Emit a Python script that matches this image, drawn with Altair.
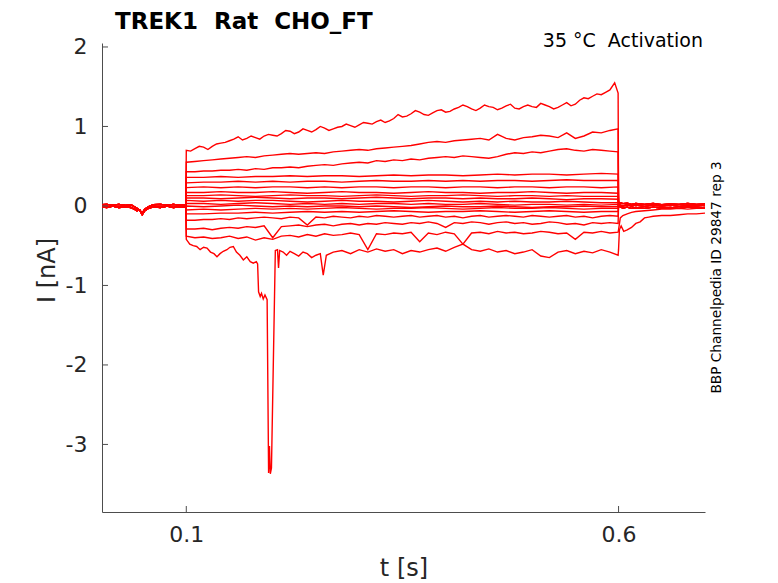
import altair as alt
import pandas as pd

# ---- time grids (s) ----
T51 = [0.1, 0.11, 0.12, 0.13, 0.14, 0.15, 0.16, 0.17, 0.18, 0.19,
       0.2, 0.21, 0.22, 0.23, 0.24, 0.25, 0.26, 0.27, 0.28, 0.29,
       0.3, 0.31, 0.32, 0.33, 0.34, 0.35, 0.36, 0.37, 0.38, 0.39,
       0.4, 0.41, 0.42, 0.43, 0.44, 0.45, 0.46, 0.47, 0.48, 0.49,
       0.5, 0.51, 0.52, 0.53, 0.54, 0.55, 0.56, 0.57, 0.58, 0.59, 0.5995]
T26 = [0.1, 0.12, 0.14, 0.16, 0.18, 0.2, 0.22, 0.24, 0.26, 0.28,
       0.3, 0.32, 0.34, 0.36, 0.38, 0.4, 0.42, 0.44, 0.46, 0.48,
       0.5, 0.52, 0.54, 0.56, 0.58, 0.5995]

# ---- baseline before the step ----
PRE_T = [0.0025, 0.008, 0.015, 0.022, 0.03, 0.036, 0.04, 0.043, 0.046, 0.049,
         0.052, 0.056, 0.062, 0.07, 0.078, 0.085, 0.092, 0.0995]
PRE_A = [0.015, 0.02, 0.01, 0.02, 0.005, 0.015, -0.01, -0.03, -0.05, -0.09,
         -0.04, -0.01, 0.015, 0.02, 0.01, 0.02, 0.01, 0.015]
PRE_B = [-0.01, -0.02, 0.0, -0.02, -0.01, -0.02, -0.04, -0.06, -0.05, -0.11,
         -0.06, -0.03, -0.01, -0.02, 0.0, -0.02, -0.01, -0.015]

# ---- tail after the step ----
POST_T = [0.6, 0.602, 0.605, 0.61, 0.615, 0.62, 0.63, 0.64, 0.65, 0.66, 0.67, 0.68, 0.69, 0.7]
POST_A = [0.045, 0.04, 0.03, 0.035, 0.02, 0.03, 0.02, 0.03, 0.015, 0.025, 0.02, 0.03, 0.02, 0.025]
POST_B = [0.0, -0.01, -0.025, -0.015, -0.03, -0.02, -0.03, -0.015, -0.025, -0.02, -0.03, -0.015, -0.025, -0.02]
POST_C = [0.02, 0.01, 0.0, 0.015, 0.0, 0.01, -0.005, 0.01, 0.0, 0.01, -0.005, 0.005, 0.0, 0.01]
POST_S = [-0.30, -0.15, -0.12, -0.10, -0.08, -0.07, -0.06, -0.05, -0.04, -0.04, -0.03, -0.04, -0.03, -0.03]
POST_R_T = [0.6, 0.601, 0.603, 0.606, 0.61, 0.615, 0.62, 0.625, 0.63, 0.635, 0.64,
            0.65, 0.66, 0.67, 0.68, 0.69, 0.7]
POST_R = [-0.55, -0.30, -0.25, -0.32, -0.30, -0.27, -0.22, -0.20, -0.15, -0.14, -0.13,
          -0.12, -0.12, -0.11, -0.10, -0.10, -0.09]

# ---- step traces (nA) ----
A_PTS = [(0.100, 0.70), (0.105, 0.69), (0.110, 0.72), (0.115, 0.75), (0.120, 0.74),
         (0.125, 0.71), (0.130, 0.75), (0.135, 0.78), (0.140, 0.79), (0.145, 0.80),
         (0.150, 0.82), (0.155, 0.84), (0.160, 0.87), (0.165, 0.83), (0.170, 0.85),
         (0.175, 0.88), (0.180, 0.86), (0.185, 0.84), (0.190, 0.88), (0.195, 0.90),
         (0.200, 0.89), (0.205, 0.88), (0.210, 0.91), (0.215, 0.95), (0.220, 0.94),
         (0.225, 0.91), (0.230, 0.93), (0.235, 0.97), (0.240, 0.95), (0.245, 0.93),
         (0.250, 0.96), (0.255, 1.00), (0.260, 0.98), (0.265, 0.95), (0.270, 0.97),
         (0.275, 0.99), (0.280, 1.00), (0.285, 1.03), (0.290, 1.01), (0.295, 0.99),
         (0.300, 1.02), (0.305, 1.05), (0.310, 1.04), (0.315, 1.03), (0.320, 1.06),
         (0.325, 1.08), (0.330, 1.05), (0.335, 1.07), (0.340, 1.10), (0.345, 1.15),
         (0.350, 1.12), (0.355, 1.13), (0.360, 1.16), (0.365, 1.20), (0.370, 1.18),
         (0.375, 1.15), (0.380, 1.14), (0.385, 1.17), (0.390, 1.20), (0.395, 1.21),
         (0.400, 1.18), (0.405, 1.19), (0.410, 1.22), (0.415, 1.24), (0.420, 1.27),
         (0.425, 1.25), (0.430, 1.22), (0.435, 1.20), (0.440, 1.23), (0.445, 1.27),
         (0.450, 1.25), (0.455, 1.24), (0.460, 1.21), (0.465, 1.23), (0.470, 1.26),
         (0.475, 1.28), (0.480, 1.23), (0.485, 1.22), (0.490, 1.25), (0.495, 1.27),
         (0.500, 1.25), (0.505, 1.24), (0.510, 1.29), (0.515, 1.27), (0.520, 1.25),
         (0.525, 1.22), (0.530, 1.24), (0.535, 1.27), (0.540, 1.30), (0.545, 1.26),
         (0.550, 1.28), (0.555, 1.33), (0.560, 1.36), (0.565, 1.35), (0.570, 1.38),
         (0.575, 1.41), (0.580, 1.40), (0.585, 1.43), (0.590, 1.46), (0.5955, 1.55),
         (0.5995, 1.42)]
B = [0.55, 0.56, 0.57, 0.58, 0.59, 0.60, 0.61, 0.62, 0.61, 0.63,
     0.64, 0.65, 0.66, 0.65, 0.66, 0.67, 0.66, 0.68, 0.69, 0.70,
     0.71, 0.70, 0.72, 0.73, 0.74, 0.75, 0.76, 0.78, 0.80, 0.81,
     0.80, 0.82, 0.83, 0.84, 0.85, 0.83, 0.90, 0.85, 0.83, 0.86,
     0.87, 0.89, 0.88, 0.86, 0.92, 0.85, 0.88, 0.93, 0.92, 0.95, 0.97]
C = [0.43, 0.43, 0.44, 0.44, 0.45, 0.45, 0.46, 0.45, 0.47, 0.46,
     0.48, 0.48, 0.49, 0.48, 0.50, 0.51, 0.52, 0.51, 0.53, 0.54,
     0.55, 0.54, 0.57, 0.56, 0.58, 0.57, 0.59, 0.58, 0.60, 0.61,
     0.62, 0.61, 0.63, 0.62, 0.61, 0.60, 0.62, 0.65, 0.67, 0.66,
     0.68, 0.67, 0.69, 0.71, 0.72, 0.70, 0.69, 0.71, 0.70, 0.69, 0.68]
D = [0.36, 0.36, 0.37, 0.36, 0.37, 0.37, 0.38, 0.37, 0.38, 0.38,
     0.37, 0.38, 0.39, 0.38, 0.39, 0.39, 0.38, 0.39, 0.40, 0.39,
     0.40, 0.40, 0.39, 0.40, 0.41, 0.40]
E = [0.29, 0.30, 0.30, 0.31, 0.30, 0.31, 0.30, 0.31, 0.31, 0.30,
     0.31, 0.32, 0.31, 0.31, 0.32, 0.31, 0.32, 0.31, 0.32, 0.32,
     0.31, 0.32, 0.33, 0.32, 0.32, 0.32]
F = [0.23, 0.24, 0.23, 0.24, 0.23, 0.24, 0.24, 0.23, 0.24, 0.23,
     0.24, 0.24, 0.23, 0.24, 0.24, 0.23, 0.24, 0.24, 0.23, 0.24,
     0.24, 0.23, 0.24, 0.24, 0.23, 0.24]
G = [0.17, 0.17, 0.18, 0.17, 0.17, 0.18, 0.17, 0.16, 0.17, 0.18,
     0.17, 0.17, 0.16, 0.17, 0.18, 0.17, 0.17, 0.16, 0.17, 0.17,
     0.18, 0.17, 0.16, 0.17, 0.17, 0.16]
H = [0.13, 0.13, 0.14, 0.13, 0.12, 0.13, 0.14, 0.13, 0.13, 0.12,
     0.13, 0.14, 0.13, 0.12, 0.13, 0.13, 0.14, 0.13, 0.12, 0.13,
     0.13, 0.12, 0.13, 0.12, 0.12, 0.12]
I_ = [0.10, 0.10, 0.09, 0.10, 0.11, 0.10, 0.09, 0.10, 0.10, 0.09,
      0.10, 0.11, 0.10, 0.09, 0.10, 0.10, 0.09, 0.10, 0.09, 0.09,
      0.10, 0.09, 0.08, 0.09, 0.09, 0.085]
J = [0.07, 0.06, 0.07, 0.06, 0.07, 0.07, 0.06, 0.05, 0.06, 0.07,
     0.06, 0.06, 0.05, 0.06, 0.07, 0.06, 0.05, 0.06, 0.05, 0.06,
     0.05, 0.05, 0.06, 0.05, 0.04, 0.04]
K = [0.03, 0.03, 0.02, 0.03, 0.04, 0.03, 0.02, 0.03, 0.02, 0.03,
     0.02, 0.03, 0.03, 0.02, 0.03, 0.02, 0.02, 0.03, 0.02, 0.01,
     0.02, 0.02, 0.01, 0.02, 0.01, 0.02]
L = [0.0, -0.01, 0.0, 0.01, 0.0, -0.01, 0.0, -0.01, 0.0, 0.0,
     -0.01, 0.0, -0.01, -0.02, -0.01, 0.0, -0.01, -0.01, 0.0, -0.01,
     -0.02, -0.01, -0.01, 0.0, -0.01, -0.01]
N = [-0.05, -0.04, -0.05, -0.04, -0.03, -0.04, -0.03, -0.04, -0.03, -0.02,
     -0.03, -0.04, -0.03, -0.03, -0.02, -0.03, -0.04, -0.03, -0.02, -0.03,
     -0.03, -0.02, -0.03, -0.04, -0.03, -0.03]
O = [-0.10, -0.10, -0.09, -0.09, -0.08, -0.09, -0.08, -0.07, -0.08, -0.07,
     -0.08, -0.07, -0.06, -0.07, -0.08, -0.07, -0.07, -0.06, -0.07, -0.08,
     -0.07, -0.06, -0.07, -0.08, -0.07, -0.07]
P = [-0.18, -0.18, -0.17, -0.17, -0.16, -0.17, -0.15, -0.16, -0.15, -0.14,
     -0.15, -0.16, -0.14, -0.15, -0.24, -0.14, -0.15, -0.13, -0.14, -0.15,
     -0.13, -0.14, -0.12, -0.13, -0.14, -0.13, -0.12, -0.14, -0.13, -0.12,
     -0.14, -0.13, -0.15, -0.13, -0.12, -0.14, -0.13, -0.12, -0.13, -0.14,
     -0.12, -0.13, -0.14, -0.13, -0.12, -0.14, -0.13, -0.15, -0.13, -0.12, -0.13]
Q = [-0.29, -0.29, -0.28, -0.30, -0.28, -0.27, -0.28, -0.26, -0.27, -0.25,
     -0.40, -0.26, -0.25, -0.24, -0.26, -0.24, -0.23, -0.25, -0.23, -0.22,
     -0.24, -0.22, -0.23, -0.21, -0.22, -0.23, -0.21, -0.22, -0.20, -0.22,
     -0.27, -0.21, -0.22, -0.20, -0.21, -0.23, -0.21, -0.20, -0.22, -0.21,
     -0.23, -0.22, -0.20, -0.21, -0.23, -0.22, -0.24, -0.21, -0.22, -0.21, -0.22]
S = [-0.38, -0.40, -0.39, -0.41, -0.40, -0.38, -0.41, -0.39, -0.43, -0.40,
     -0.42, -0.38, -0.37, -0.39, -0.36, -0.38, -0.35, -0.37, -0.36, -0.34,
     -0.36, -0.55, -0.35, -0.36, -0.34, -0.35, -0.33, -0.45, -0.34, -0.36,
     -0.33, -0.35, -0.48, -0.34, -0.33, -0.35, -0.32, -0.34, -0.33, -0.35,
     -0.34, -0.32, -0.33, -0.35, -0.34, -0.42, -0.33, -0.34, -0.32, -0.34, -0.33]
R_PTS = [(0.1, -0.42), (0.104, -0.48), (0.108, -0.50), (0.112, -0.51), (0.116, -0.55),
         (0.12, -0.52), (0.124, -0.53), (0.128, -0.58), (0.132, -0.60), (0.1355, -0.64),
         (0.139, -0.60), (0.1428, -0.57), (0.147, -0.55), (0.1505, -0.52), (0.1544, -0.51),
         (0.158, -0.58), (0.162, -0.62), (0.166, -0.68), (0.170, -0.64), (0.174, -0.70),
         (0.1775, -0.72), (0.181, -0.70), (0.1825, -0.73), (0.1836, -1.08), (0.1855, -1.14),
         (0.187, -1.10), (0.189, -1.17), (0.191, -1.12), (0.1935, -1.18), (0.1952, -3.36),
         (0.1962, -3.02), (0.1972, -3.37), (0.1985, -3.30), (0.2030, -0.56), (0.2055, -0.55),
         (0.2067, -0.78), (0.208, -0.56), (0.212, -0.58), (0.216, -0.62), (0.22, -0.57),
         (0.225, -0.60), (0.23, -0.63), (0.235, -0.58), (0.24, -0.60), (0.245, -0.65),
         (0.25, -0.62), (0.255, -0.60), (0.2584, -0.87), (0.262, -0.62), (0.27, -0.58),
         (0.28, -0.56), (0.29, -0.60), (0.30, -0.55), (0.31, -0.58), (0.32, -0.54),
         (0.33, -0.57), (0.34, -0.55), (0.35, -0.60), (0.36, -0.56), (0.37, -0.58),
         (0.38, -0.55), (0.39, -0.53), (0.40, -0.57), (0.41, -0.52), (0.42, -0.48),
         (0.43, -0.55), (0.44, -0.57), (0.45, -0.54), (0.46, -0.58), (0.47, -0.56),
         (0.48, -0.60), (0.49, -0.58), (0.50, -0.55), (0.51, -0.63), (0.52, -0.65),
         (0.53, -0.58), (0.54, -0.56), (0.55, -0.60), (0.56, -0.57), (0.57, -0.59),
         (0.58, -0.55), (0.59, -0.58), (0.5995, -0.62)]

X_TICKS = [0.1, 0.6]
Y_TICKS = [-3, -2, -1, 0, 1, 2]

TITLE = "TREK1\u00a0 Rat\u00a0 CHO_FT"
NOTE = "35 °C\u00a0 Activation"
SIDE = "BBP Channelpedia ID 29847 rep 3"

traces = [
    ("A", [p[0] for p in A_PTS], [p[1] for p in A_PTS], PRE_A, (POST_T, POST_A)),
    ("B", T51, B, PRE_B, (POST_T, POST_B)),
    ("C", T51, C, PRE_A, (POST_T, POST_C)),
    ("D", T26, D, PRE_B, (POST_T, POST_A)),
    ("E", T26, E, PRE_A, (POST_T, POST_B)),
    ("F", T26, F, PRE_B, (POST_T, POST_C)),
    ("G", T26, G, PRE_A, (POST_T, POST_A)),
    ("H", T26, H, PRE_B, (POST_T, POST_B)),
    ("I", T26, I_, PRE_A, (POST_T, POST_C)),
    ("J", T26, J, PRE_B, (POST_T, POST_A)),
    ("K", T26, K, PRE_A, (POST_T, POST_B)),
    ("L", T26, L, PRE_B, (POST_T, POST_C)),
    ("N", T26, N, PRE_A, (POST_T, POST_A)),
    ("O", T26, O, PRE_B, (POST_T, POST_B)),
    ("P", T51, P, PRE_A, (POST_T, POST_C)),
    ("Q", T51, Q, PRE_B, (POST_T, POST_B)),
    ("S", T51, S, PRE_A, (POST_T, POST_S)),
    ("R", [p[0] for p in R_PTS], [p[1] for p in R_PTS], PRE_B, (POST_R_T, POST_R)),
]

rows = []
for name, st, sv, pre, (pt, pv) in traces:
    k = 0
    for t, v in list(zip(PRE_T, pre)) + list(zip(st, sv)) + list(zip(pt, pv)):
        rows.append({"trace": name, "t": t, "i": v, "k": k})
        k += 1
df = pd.DataFrame(rows)

W, H_ = 603, 469
FONT = "DejaVu Sans"
AX = "#4d4d4d"
TXT = "#262626"

xscale = alt.Scale(domain=[0.0025, 0.7], nice=False, zero=False)
yscale = alt.Scale(domain=[-3.85, 2.05], nice=False, zero=False)
xaxis = alt.Axis(values=X_TICKS, format=".1f", ticks=False, grid=False,
                 domainColor=AX, labelFont=FONT, labelFontSize=22, labelColor=TXT,
                 labelPadding=12, title="t [s]", titleFont=FONT, titleFontSize=24,
                 titleFontWeight="normal", titleColor=TXT, titlePadding=11)
yaxis = alt.Axis(values=Y_TICKS, labelExpr="'' + datum.value", ticks=False, grid=False,
                 domainColor=AX, labelFont=FONT, labelFontSize=22, labelColor=TXT,
                 labelPadding=15, title="I [nA]", titleFont=FONT, titleFontSize=24,
                 titleFontWeight="normal", titleColor=TXT, titlePadding=6, titleY=227)

X = alt.X("t:Q", scale=xscale, axis=xaxis)
Y = alt.Y("i:Q", scale=yscale, axis=yaxis)

lines = alt.Chart(df).mark_line(color="#ff0000", strokeWidth=1.4, clip=True).encode(
    x=X, y=Y, detail="trace:N", order="k:Q")

xt = alt.Chart(pd.DataFrame({"t": X_TICKS})).mark_rule(color=AX, strokeWidth=1).encode(
    x=X, y=alt.value(H_), y2=alt.value(H_ - 6))
yt = alt.Chart(pd.DataFrame({"i": Y_TICKS})).mark_rule(color=AX, strokeWidth=1).encode(
    y=Y, x=alt.value(0), x2=alt.value(6))

title = alt.Chart(pd.DataFrame({"s": [TITLE]})).mark_text(
    align="left", baseline="alphabetic", font=FONT, fontSize=23, fontWeight="bold",
    color="#000000").encode(x=alt.value(13), y=alt.value(-14), text="s:N")
note = alt.Chart(pd.DataFrame({"s": [NOTE]})).mark_text(
    align="right", baseline="middle", font=FONT, fontSize=19, color="#000000").encode(
    x=alt.value(W - 2), y=alt.value(-2), text="s:N")
side = alt.Chart(pd.DataFrame({"s": [SIDE]})).mark_text(
    align="center", baseline="middle", font=FONT, fontSize=13.7, angle=270,
    color="#000000").encode(x=alt.value(615), y=alt.value(H_ / 2), text="s:N")

chart = alt.layer(lines, xt, yt, title, note, side).properties(
    width=W, height=H_,
    autosize=alt.AutoSizeParams(type="none"),
    padding={"left": 94, "top": 35, "right": 65, "bottom": 70},
).configure_view(stroke=None)

chart.save("out.html", embed_options={"renderer": "svg", "actions": False})
